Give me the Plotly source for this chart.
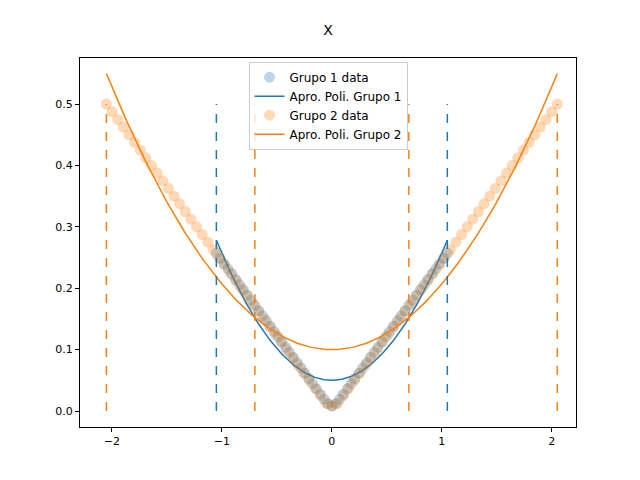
import numpy as np
import plotly.graph_objects as go

# datos grupo 1 (mitad positiva, la curva es simetrica)
g1_half_x = [0.0, 0.035, 0.07, 0.105, 0.14, 0.175, 0.21, 0.245, 0.28, 0.315, 0.35, 0.385, 0.42, 0.455, 0.49, 0.525,
             0.56, 0.595, 0.63, 0.665, 0.7, 0.735, 0.77, 0.805, 0.84, 0.875, 0.91, 0.945, 0.98, 1.015, 1.05]
g1_half_y = [0.008, 0.012, 0.019, 0.0275, 0.036, 0.0445, 0.053, 0.0615, 0.070, 0.0785, 0.087, 0.0955, 0.104, 0.1125,
             0.121, 0.1295, 0.138, 0.1465, 0.155, 0.1635, 0.172, 0.1805, 0.189, 0.1975, 0.206, 0.2145, 0.223, 0.2315,
             0.240, 0.2485, 0.257]

# datos grupo 2 (mitad positiva)
g2_half_x = [0.0, 0.05125, 0.1025, 0.15375, 0.205, 0.25625, 0.3075, 0.35875, 0.41, 0.46125, 0.5125, 0.56375, 0.615,
             0.66625, 0.7175, 0.76875, 0.82, 0.87125, 0.9225, 0.97375, 1.025, 1.07625, 1.1275, 1.17875, 1.23,
             1.28125, 1.3325, 1.38375, 1.435, 1.48625, 1.5375, 1.58875, 1.64, 1.69125, 1.7425, 1.79375, 1.845,
             1.89625, 1.9475, 1.99875, 2.05]
g2_half_y = [0.008, 0.0125, 0.025, 0.0375, 0.050, 0.0625, 0.075, 0.0875, 0.100, 0.1125, 0.125, 0.1375, 0.150, 0.1625,
             0.175, 0.1875, 0.200, 0.2125, 0.225, 0.2375, 0.250, 0.2625, 0.275, 0.2875, 0.300, 0.3125, 0.325, 0.3375,
             0.350, 0.3625, 0.375, 0.3875, 0.400, 0.4125, 0.425, 0.4375, 0.450, 0.4625, 0.475, 0.4875, 0.500]

g1_x = [-v for v in g1_half_x[:0:-1]] + g1_half_x
g1_y = g1_half_y[:0:-1] + g1_half_y
g2_x = [-v for v in g2_half_x[:0:-1]] + g2_half_x
g2_y = g2_half_y[:0:-1] + g2_half_y

# coeficientes del polinomio (c0, c2)
g1_coef = [0.05, 0.207]
g2_coef = [0.1, 0.107]
g1_range = [-1.05, 1.05]
g2_range = [-2.05, 2.05]

# lineas verticales
g1_vlines = [-1.05, 1.05]
g2_vlines = [-2.05, -0.7, 0.7, 2.05]
vline_top = 0.5

blue = '#1f77b4'
orange = '#ff7f0e'

fig = go.Figure()

fig.add_trace(go.Scatter(x=g1_x, y=g1_y, mode='markers', name='Grupo 1 data',
                         marker=dict(color=blue, size=11, opacity=0.3)))
xx1 = np.linspace(g1_range[0], g1_range[1], 200)
fig.add_trace(go.Scatter(x=xx1, y=g1_coef[0] + g1_coef[1] * xx1 ** 2, mode='lines',
                         name='Apro. Poli. Grupo 1', line=dict(color=blue, width=1.5)))
fig.add_trace(go.Scatter(x=g2_x, y=g2_y, mode='markers', name='Grupo 2 data',
                         marker=dict(color=orange, size=11, opacity=0.3)))
xx2 = np.linspace(g2_range[0], g2_range[1], 200)
fig.add_trace(go.Scatter(x=xx2, y=g2_coef[0] + g2_coef[1] * xx2 ** 2, mode='lines',
                         name='Apro. Poli. Grupo 2', line=dict(color=orange, width=1.5)))

for v in g1_vlines:
    fig.add_trace(go.Scatter(x=[v, v], y=[0, vline_top], mode='lines', showlegend=False,
                             line=dict(color=blue, width=1.5, dash='dash')))
for v in g2_vlines:
    fig.add_trace(go.Scatter(x=[v, v], y=[0, vline_top], mode='lines', showlegend=False,
                             line=dict(color=orange, width=1.5, dash='dash')))

axis = dict(showgrid=False, zeroline=False, showline=True, mirror=True, linecolor='black',
            ticks='outside', ticklen=4, tickcolor='black')
fig.update_layout(
    width=640, height=480,
    title=dict(text='X', x=0.5, xanchor='center', y=0.965, font=dict(size=14, color='black')),
    font=dict(family='DejaVu Sans', size=11, color='black'),
    plot_bgcolor='white', paper_bgcolor='white',
    margin=dict(l=72, r=72, t=50, b=61),
    xaxis=dict(range=[-2.29, 2.22], tickvals=[-2, -1, 0, 1, 2], **axis),
    yaxis=dict(range=[-0.026, 0.575], tickvals=[0, 0.1, 0.2, 0.3, 0.4, 0.5],
               tickformat='.1f', **axis),
    legend=dict(x=0.5, xanchor='center', y=0.99, yanchor='top', bordercolor='#cccccc',
                borderwidth=1, bgcolor='rgba(255,255,255,0.8)', font=dict(size=12)),
    showlegend=True,
)

fig.write_html("out.html")
